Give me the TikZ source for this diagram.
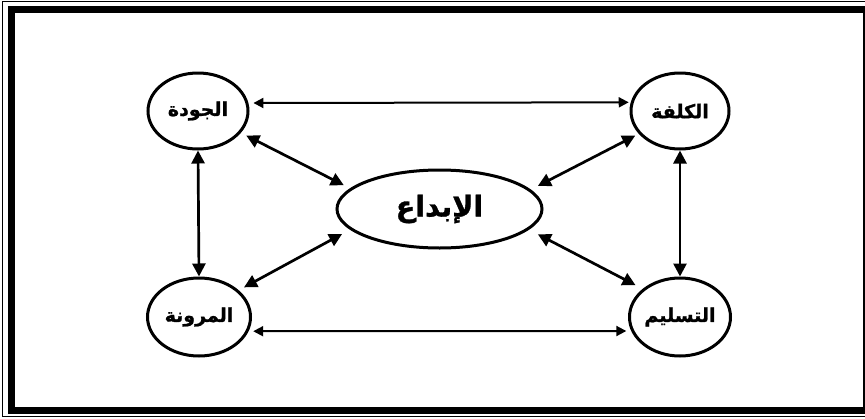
\documentclass[tikz,border=0pt]{standalone}
\usepackage{fontspec}
\newfontfamily\arabicfont[Script=Arabic,BoldFeatures={FakeBold=1.2}]{DejaVu Sans}
\TeXXeTstate=1
\usetikzlibrary{shapes.geometric,arrows.meta}
\begin{document}
\begin{tikzpicture}[x=1pt,y=-1pt,
  bub/.style={ellipse,draw,line width=3pt,inner sep=0pt,
    font=\arabicfont\bfseries\fontsize{19}{21}\selectfont},
  bigbub/.style={bub,font=\arabicfont\bfseries\fontsize{28.5}{31}\selectfont},
  dblarrow/.style={{Triangle[length=13pt,width=13pt]}-{Triangle[length=13pt,width=13pt]},line width=2.7pt},
  hdblarrow/.style={{Triangle[length=10pt,width=10pt]}-{Triangle[length=10pt,width=10pt]},line width=2pt}]
\useasboundingbox (0,0) rectangle (865,418);
\begin{scope}
  \clip (0,0) rectangle (865,418);
  \draw[line width=7pt] (11,9.5) rectangle (866,410);
  \draw[line width=1.2pt] (2.5,1.8) rectangle (873,416.3);
\end{scope}

\node[bub,minimum width=100pt,minimum height=76pt] (jawda) at (198,111) {\beginR الجودة\endR};
\node[bub,minimum width=98pt,minimum height=76pt] (kulfa) at (680,111) {\beginR الكلفة\endR};
\node[bigbub,minimum width=205pt,minimum height=78pt] (ibda) at (439.5,209) {\beginR الإبداع\endR};
\node[bub,minimum width=103pt,minimum height=78pt] (maruna) at (199,317) {\beginR المرونة\endR};
\node[bub,minimum width=101pt,minimum height=78pt] (tasleem) at (680,317) {\beginR التسليم\endR};

\draw[hdblarrow,shorten <=5pt,shorten >=2pt] (jawda.9.3) -- (kulfa.170.5);
\draw[hdblarrow,shorten <=4.6pt,shorten >=4.9pt] (maruna.-16.2) -- (tasleem.196.6);
\draw[dblarrow] (jawda.south) -- (maruna.north);
\draw[dblarrow] (kulfa.south) -- (tasleem.north);
\draw[dblarrow,shorten <=6pt,shorten >=7pt] (jawda.-27) -- (ibda.167.8);
\draw[dblarrow,shorten <=6pt,shorten >=9pt] (maruna.34.3) -- (ibda.193.9);
\draw[dblarrow,shorten <=4pt,shorten >=8pt] (kulfa.209.2) -- (ibda.12.5);
\draw[dblarrow,shorten <=8pt,shorten >=10pt] (tasleem.143.4) -- (ibda.-13.8);
\end{tikzpicture}
\end{document}
